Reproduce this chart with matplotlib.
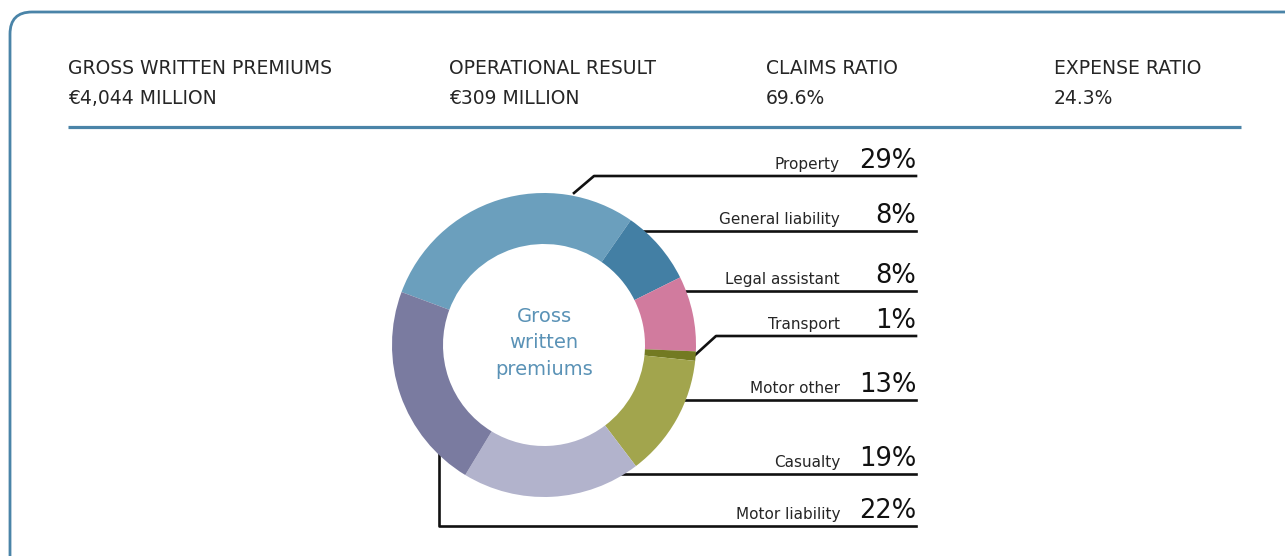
import matplotlib.pyplot as plt
from matplotlib.patches import FancyBboxPatch
import numpy as np

W, H = 1285, 556

# kennzahlen oben
kpi_titles = ["GROSS WRITTEN PREMIUMS", "OPERATIONAL RESULT", "CLAIMS RATIO", "EXPENSE RATIO"]
kpi_values = ["€4,044 MILLION", "€309 MILLION", "69.6%", "24.3%"]

# donut
categories = ["Property", "General liability", "Legal assistant", "Transport",
              "Motor other", "Casualty", "Motor liability"]
shares = [29, 8, 8, 1, 13, 19, 22]
colors = ["#6b9fbd", "#437fa4", "#d17b9e", "#737a22", "#a2a54d", "#b2b3cc", "#7a7ba0"]

BLUE = "#4a84a8"
TXT = "#262626"

fig = plt.figure(figsize=(W / 100, H / 100), dpi=100)
ax = fig.add_axes([0, 0, 1, 1])


def py(y):
    # pixel y (von oben) -> daten y
    return H - y


# rahmen
frame = FancyBboxPatch((10, -40), 1320, py(12) + 40,
                       boxstyle="round,pad=0,rounding_size=22",
                       fc="none", ec=BLUE, lw=2.0)
ax.add_patch(frame)

# header
kpi_x = [68, 449, 766, 1054]
for x, t, v in zip(kpi_x, kpi_titles, kpi_values):
    ax.text(x, py(68), t, fontsize=13.5, color=TXT, va="center", ha="left")
    ax.text(x, py(99), v, fontsize=13.5, color=TXT, va="center", ha="left")
ax.plot([68, 1241], [py(127), py(127)], color=BLUE, lw=2.3, solid_capstyle="butt")

# donut
cx, cy, R = 544, py(345), 152
ring = 51
start = 159.6
wedges, _ = ax.pie(shares, colors=colors, startangle=start, counterclock=False,
                   center=(cx, cy), radius=R, frame=True,
                   wedgeprops=dict(width=ring, linewidth=0, zorder=3))

ax.text(cx, py(343), "Gross\nwritten\npremiums", fontsize=14, color="#5a92b6",
        ha="center", va="center", linespacing=1.5)

# beschriftungen und linien
line_y = [176, 231, 291, 336, 400, 474, 526]
x_end = 916
lw = 1.9
for i, (cat, s, ly) in enumerate(zip(categories, shares, line_y)):
    yy = py(ly)
    if cat == "Property":
        ax.plot([574, 594, x_end], [py(193), yy, yy], color="#111111", lw=lw, zorder=2)
    elif cat == "Transport":
        ax.plot([694, 716, x_end], [py(356), yy, yy], color="#111111", lw=lw, zorder=2)
    elif cat == "Motor liability":
        ax.plot([439, 439, x_end], [py(440), yy, yy], color="#111111", lw=lw, zorder=2)
    else:
        dy = yy - cy
        x0 = cx + np.sqrt(R ** 2 - dy ** 2) - 6
        ax.plot([x0, x_end], [yy, yy], color="#111111", lw=lw, zorder=2)
    ax.text(840, yy + 4, cat, fontsize=11, color=TXT, ha="right", va="bottom")
    ax.text(x_end, yy + 2, f"{s}%", fontsize=18.5, color="#111111", ha="right", va="bottom")

ax.set_xlim(0, W)
ax.set_ylim(0, H)
ax.set_aspect("auto")
ax.axis("off")

fig.savefig("out.png", dpi=100)
